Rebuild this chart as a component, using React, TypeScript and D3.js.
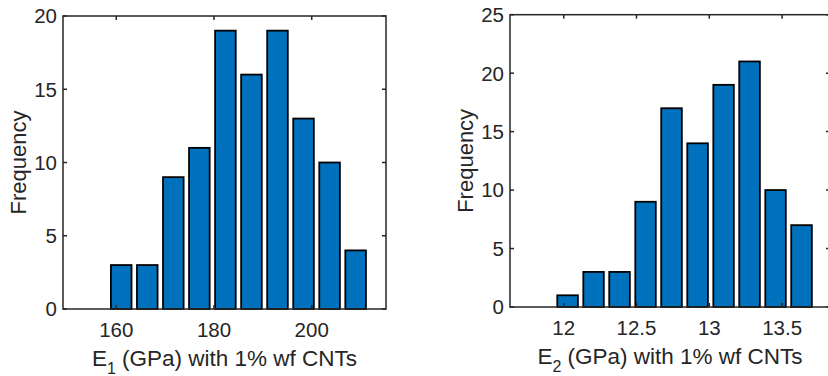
import React from 'react';
import * as d3 from 'd3';

// ---- Data: left histogram (E1) ----
const e1Edges = [158.35, 163.68, 169.01, 174.34, 179.67, 185.0, 190.33, 195.66, 200.99, 206.32, 211.65];
const e1Counts = [3, 3, 9, 11, 19, 16, 19, 13, 10, 4];
const e1XTicks = [160, 180, 200];
const e1YTicks = [0, 5, 10, 15, 20];
const e1XDomain = [149.1, 215.2];
const e1YDomain = [0, 20];

// ---- Data: right histogram (E2) ----
const e2Edges = [11.937, 12.116, 12.294, 12.473, 12.651, 12.83, 13.009, 13.187, 13.366, 13.544, 13.723];
const e2Counts = [1, 3, 3, 9, 17, 14, 19, 21, 10, 7];
const e2XTicks = [12, 12.5, 13, 13.5];
const e2YTicks = [0, 5, 10, 15, 20, 25];
const e2XDomain = [11.631, 13.829];
const e2YDomain = [0, 25];

const FONT = '"Liberation Sans", Arial, Helvetica, sans-serif';
const AX = '#262626';
const BAR = '#0072BD';

type PanelProps = {
  left: number; right: number; top: number; bottom: number;
  edges: number[]; counts: number[];
  xDomain: number[]; yDomain: number[];
  xTicks: number[]; yTicks: number[];
  sub: string;
};

function Panel(p: PanelProps) {
  const xs = d3.scaleLinear().domain(p.xDomain).range([p.left, p.right]);
  const ys = d3.scaleLinear().domain(p.yDomain).range([p.bottom, p.top]);
  const tl = 4;
  const fmt = (v: number) => String(v);
  const cy = (p.top + p.bottom) / 2;
  const cx = (p.left + p.right) / 2;
  return (
    <g>
      {p.counts.map((c, i) => {
        const x0 = xs(p.edges[i]);
        const x1 = xs(p.edges[i + 1]);
        const pitch = x1 - x0;
        const outer = pitch * 0.86;
        const sw = 1.8;
        const mid = (x0 + x1) / 2;
        const w = outer - sw;
        return (
          <rect key={i} x={mid - w / 2} y={ys(c)} width={w} height={ys(0) - ys(c)}
            fill={BAR} stroke="#000" strokeWidth={sw} />
        );
      })}
      <rect x={p.left} y={p.top} width={p.right - p.left} height={p.bottom - p.top}
        fill="none" stroke={AX} strokeWidth={1.5} />
      {p.xTicks.map((t) => (
        <g key={'x' + t}>
          <line x1={xs(t)} x2={xs(t)} y1={p.bottom} y2={p.bottom - tl} stroke={AX} strokeWidth={1.5} />
          <line x1={xs(t)} x2={xs(t)} y1={p.top} y2={p.top + tl} stroke={AX} strokeWidth={1.5} />
          <text x={xs(t)} y={p.bottom + 28} textAnchor="middle" fontSize={20.5} fill={AX} fontFamily={FONT}>{fmt(t)}</text>
        </g>
      ))}
      {p.yTicks.map((t) => (
        <g key={'y' + t}>
          <line x1={p.left} x2={p.left + tl} y1={ys(t)} y2={ys(t)} stroke={AX} strokeWidth={1.5} />
          <line x1={p.right} x2={p.right - tl} y1={ys(t)} y2={ys(t)} stroke={AX} strokeWidth={1.5} />
          <text x={p.left - 6} y={ys(t)} dy="0.36em" textAnchor="end" fontSize={20.5} fill={AX} fontFamily={FONT}>{fmt(t)}</text>
        </g>
      ))}
      <text transform={`translate(${p.left - 37.5},${cy}) rotate(-90)`} textAnchor="middle"
        fontSize={22} fill={AX} fontFamily={FONT}>Frequency</text>
      <text x={cx} y={p.bottom + 57} textAnchor="middle" fontSize={22.5} fill={AX} fontFamily={FONT}>
        <tspan>E</tspan>
        <tspan dy={8} fontSize={16}>{p.sub}</tspan>
        <tspan dy={-8}> (GPa) with 1% wf CNTs</tspan>
      </text>
    </g>
  );
}

export default function App() {
  return (
    <svg width={828} height={376} style={{ position: 'absolute', left: 0, top: 0, background: '#fff' }}>
      <rect x={0} y={0} width={828} height={376} fill="#fff" />
      <Panel left={63} right={386} top={16} bottom={309}
        edges={e1Edges} counts={e1Counts} xDomain={e1XDomain} yDomain={e1YDomain}
        xTicks={e1XTicks} yTicks={e1YTicks} sub="1" />
      <Panel left={510} right={830} top={14.7} bottom={307}
        edges={e2Edges} counts={e2Counts} xDomain={e2XDomain} yDomain={e2YDomain}
        xTicks={e2XTicks} yTicks={e2YTicks} sub="2" />
    </svg>
  );
}
